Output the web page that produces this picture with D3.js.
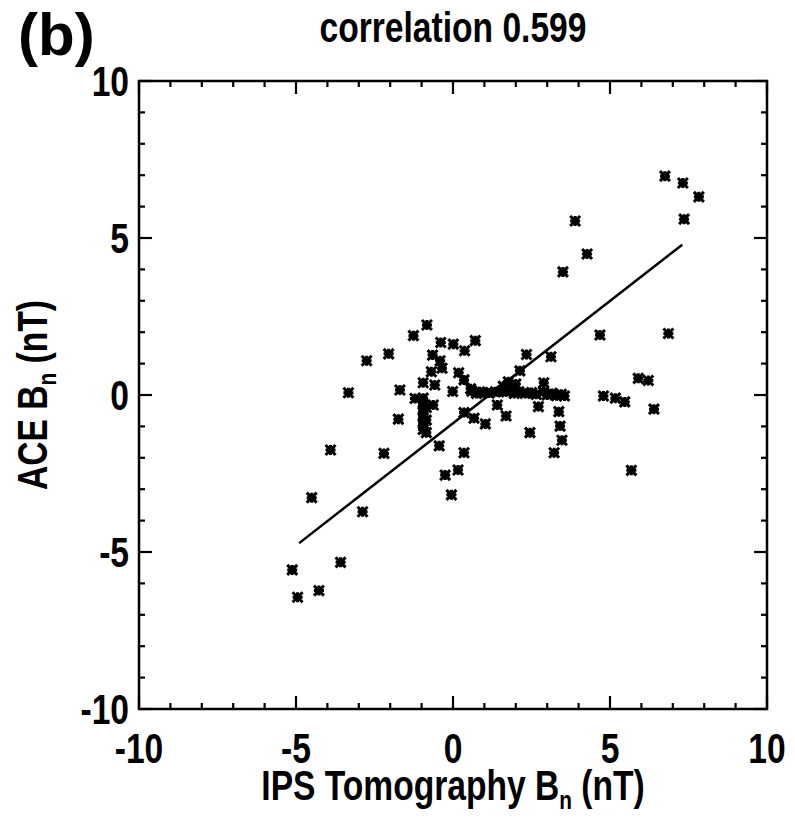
<!DOCTYPE html>
<html>
<head>
<meta charset="utf-8">
<script src="https://cdn.jsdelivr.net/npm/d3@7"></script>
<style>
  body { margin: 0; background: #fff; }
  text { font-family: "Liberation Sans", Arial, sans-serif; font-weight: bold; fill: #000; }
</style>
</head>
<body>
<svg width="795" height="818"></svg>
<script>
// IPS tomography Bn vs ACE Bn (nT)
const ipsBn = [
  6.75, 7.32, 7.83, 7.36, 3.89, 4.27, 3.50, 4.68, 6.86, 5.90,
  6.22, 4.79, 5.17, 5.47, 6.40, 5.68, 3.37, 3.41, 3.47, 3.22,
  3.12, 2.34, 2.13, 2.89, 2.72, 2.45, 1.41, 1.69, 1.03, 0.67,
  0.35, 0.35, 0.16, -0.25, -0.05, -0.44, -0.83, -1.26, -2.05, -2.75,
  -3.33, -1.69, -0.39, 0.01, 0.37, 0.71, -0.65, -0.41, -0.35, -0.69,
  0.18, -0.95, -0.58, 0.35, 0.56, -0.01, -0.63, -1.21, -1.74, -0.95,
  -0.95, -0.95, -0.95, -0.95, -0.95, -0.85, -0.85, -0.85, -3.90, -2.20,
  -4.50, -2.88, -3.58, -5.12, -4.95, -4.27, 1.76, 0.75, 0.95, 1.15,
  1.35, 1.55, 1.70, 1.85, 1.95, 2.10, 2.30, 2.50, 2.65, 3.00,
  3.15, 3.30, 3.45, 3.55, 1.75, 1.90, 2.00, 1.60, 0.60, 0.85,
  2.88
];
const aceBn = [
  6.97, 6.75, 6.31, 5.60, 5.54, 4.49, 3.92, 1.91, 1.96, 0.53,
  0.46, -0.03, -0.10, -0.22, -0.45, -2.40, -0.53, -0.99, -1.44, -1.84,
  1.22, 1.29, 0.77, 0.39, -0.37, -1.20, -0.32, -0.67, -0.92, -0.74,
  -0.56, -1.84, -2.39, -2.55, -3.18, -1.62, 2.23, 1.89, 1.31, 1.09,
  0.07, 0.16, 1.67, 1.62, 1.41, 1.73, 1.27, 1.09, 0.85, 0.74,
  0.71, 0.39, 0.32, 0.48, 0.20, 0.11, -0.32, -0.11, -0.77, -0.10,
  -0.30, -0.50, -0.70, -0.90, -1.10, -0.40, -0.80, -1.20, -1.75, -1.86,
  -3.27, -3.72, -5.33, -5.57, -6.44, -6.23, 0.42, 0.05, 0.08, 0.06,
  0.10, 0.12, 0.10, 0.20, 0.05, 0.10, 0.05, 0.08, 0.02, 0.00,
  0.05, -0.02, 0.02, -0.03, 0.30, 0.25, 0.35, 0.28, 0.12, 0.10,
  0.10
];

// fit line drawn on the plot
const fitX = [-4.9, 7.3];
const fitSlope = 0.779;
const fitIntercept = -0.90;

const majorTicks = [-10, -5, 0, 5, 10];
const minorTicks = d3.range(-10, 11, 1);

const svg = d3.select("svg");
const m = { left: 139, right: 767, top: 81, bottom: 709 };

const x = d3.scaleLinear().domain([-10, 10]).range([m.left, m.right]);
const y = d3.scaleLinear().domain([-10, 10]).range([m.bottom, m.top]);

// narrow bold text (no Helvetica Narrow here, so squeeze Liberation Sans)
const NARROW = 0.8;
function label(px, py, anchor, size, rot) {
  return svg.append("text")
    .attr("transform", `translate(${px},${py}) rotate(${rot || 0}) scale(${NARROW},1)`)
    .attr("text-anchor", anchor)
    .attr("font-size", size);
}

// frame
svg.append("rect")
  .attr("x", m.left).attr("y", m.top)
  .attr("width", m.right - m.left).attr("height", m.bottom - m.top)
  .attr("fill", "none").attr("stroke", "#000").attr("stroke-width", 2.5);

// inward ticks on all 4 sides
function tickLen(v) { return majorTicks.includes(v) ? 13 : 6; }
const tk = svg.append("g").attr("stroke", "#000").attr("stroke-width", 2.2);
minorTicks.forEach(v => {
  const L = tickLen(v);
  tk.append("line").attr("x1", x(v)).attr("x2", x(v)).attr("y1", m.bottom).attr("y2", m.bottom - L);
  tk.append("line").attr("x1", x(v)).attr("x2", x(v)).attr("y1", m.top).attr("y2", m.top + L);
  tk.append("line").attr("y1", y(v)).attr("y2", y(v)).attr("x1", m.left).attr("x2", m.left + L);
  tk.append("line").attr("y1", y(v)).attr("y2", y(v)).attr("x1", m.right).attr("x2", m.right - L);
});

// tick labels
majorTicks.forEach(v => {
  label(x(v), 763, "middle", 42).text(v);
  label(129, y(v) + 15, "end", 42).text(v);
});

// axis titles
const xt = label(453, 800, "middle", 42);
xt.append("tspan").text("IPS Tomography B");
xt.append("tspan").attr("font-size", 26).attr("dy", 9).text("n");
xt.append("tspan").attr("dy", -9).text(" (nT)");

const yt = label(47, y(0), "middle", 42, -90);
yt.append("tspan").text("ACE B");
yt.append("tspan").attr("font-size", 26).attr("dy", 9).text("n");
yt.append("tspan").attr("dy", -9).text(" (nT)");

label(453, 42, "middle", 42).text("correlation 0.599");

svg.append("text").attr("x", 18).attr("y", 55)
  .attr("font-size", 60)
  .text("(b)");

// fit line
svg.append("line")
  .attr("x1", x(fitX[0])).attr("y1", y(fitIntercept + fitSlope * fitX[0]))
  .attr("x2", x(fitX[1])).attr("y2", y(fitIntercept + fitSlope * fitX[1]))
  .attr("stroke", "#000").attr("stroke-width", 2.5);

// asterisk markers
const star = "M-5,-5L5,5M-5,5L5,-5M0,-5L0,5M-5,0L5,0";
svg.selectAll(".pt").data(ipsBn.map((v, i) => [v, aceBn[i]])).enter()
  .append("path")
  .attr("transform", d => `translate(${x(d[0])},${y(d[1])})`)
  .attr("d", star)
  .attr("stroke", "#000").attr("stroke-width", 3).attr("fill", "none");
</script>
</body>
</html>
